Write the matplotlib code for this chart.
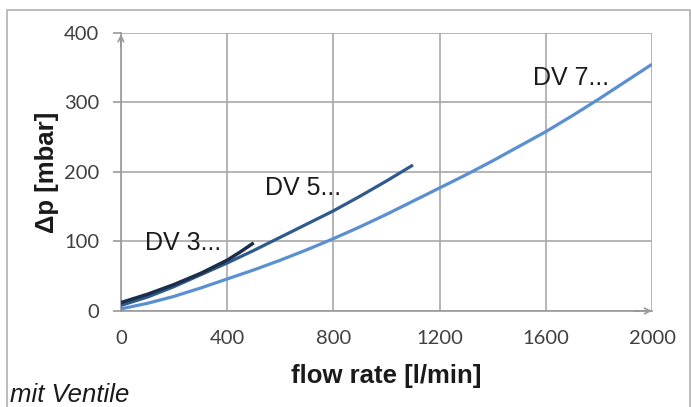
# plot.py

import numpy as np
import matplotlib.pyplot as plt
from matplotlib.patches import Rectangle

# -----------------------------
# 1. Data
# -----------------------------
dv7_flow = [0, 100, 200, 300, 400, 500, 600, 700, 800, 900, 1000,
            1100, 1200, 1300, 1400, 1500, 1600, 1700, 1800, 1900, 2000]
dv7_dp = [3, 11, 21, 33, 46, 59, 73, 88, 104, 121, 139,
          158, 177, 196, 216, 237, 258, 281, 305, 330, 355]

dv5_flow = [0, 100, 200, 300, 400, 500, 600, 700, 800, 900, 1000, 1100]
dv5_dp = [8, 20, 35, 52, 69, 87, 106, 125, 144, 165, 187, 210]

dv3_flow = [0, 100, 200, 300, 400, 450, 500]
dv3_dp = [12, 24, 38, 54, 73, 85, 98]

x_ticks = [0, 400, 800, 1200, 1600, 2000]
y_ticks = [0, 100, 200, 300, 400]

# -----------------------------
# 2. Figure and axes
# -----------------------------
fig = plt.figure(figsize=(6.91, 4.07), dpi=100)
ax = fig.add_axes([0.175, 0.236, 0.7686, 0.683])

# outer frame
fig.patches.append(Rectangle((7 / 691, -0.01), 683 / 691, 0.985,
                             transform=fig.transFigure, fill=False,
                             edgecolor='#b0b0b0', linewidth=1.2))

ax.plot(dv7_flow, dv7_dp, color='#5a8fd2', lw=2.3, solid_capstyle='butt', zorder=3)
ax.plot(dv5_flow, dv5_dp, color='#2f5a8e', lw=2.3, solid_capstyle='butt', zorder=4)
ax.plot(dv3_flow, dv3_dp, color='#1c2e4a', lw=2.5, solid_capstyle='butt', zorder=5)

txt = dict(fontsize=18, color='#1a1a1a', family='Liberation Sans')
ax.text(1552, 325, 'DV 7...', **txt)
ax.text(542, 167, 'DV 5...', **txt)
ax.text(90, 88, 'DV 3...', **txt)

ax.set_xlim(0, 2000)
ax.set_ylim(0, 400)
ax.set_xticks(x_ticks)
ax.set_yticks(y_ticks)
ax.grid(True, color='#a8a8a8', linewidth=1.2)
ax.set_axisbelow(True)

for s in ['top', 'right']:
    ax.spines[s].set_visible(False)
for s in ['left', 'bottom']:
    ax.spines[s].set_color('#999999')
    ax.spines[s].set_linewidth(1.2)

ax.tick_params(axis='both', colors='#999999', length=5.5, width=1.2,
               labelcolor='#404040', labelsize=14.5)
ax.tick_params(axis='x', length=0, pad=14)
ax.tick_params(axis='y', pad=10)
for lab in ax.get_xticklabels() + ax.get_yticklabels():
    lab.set_family('Lato')

# axis arrows
ax.annotate('', xy=(0, 1.005), xytext=(0, 0.94), xycoords='axes fraction',
            arrowprops=dict(arrowstyle='->', color='#999999', lw=1.2))
ax.annotate('', xy=(1.005, 0), xytext=(0.96, 0), xycoords='axes fraction',
            arrowprops=dict(arrowstyle='->', color='#999999', lw=1.2))

ax.set_xlabel('flow rate [l/min]', fontsize=18.5, fontweight='bold',
              family='Liberation Sans', color='#1a1a1a', labelpad=12)
ax.set_ylabel('\u0394p [mbar]', fontsize=18.5, fontweight='bold',
              family='Liberation Sans', color='#1a1a1a', labelpad=4)

fig.text(10 / 691, 0.0, 'mit Ventile', fontsize=18.5, style='italic',
         family='Liberation Sans', color='#1a1a1a', va='bottom')

# -----------------------------
# 3. Save figure
# -----------------------------
plt.savefig('out.png', dpi=100)
